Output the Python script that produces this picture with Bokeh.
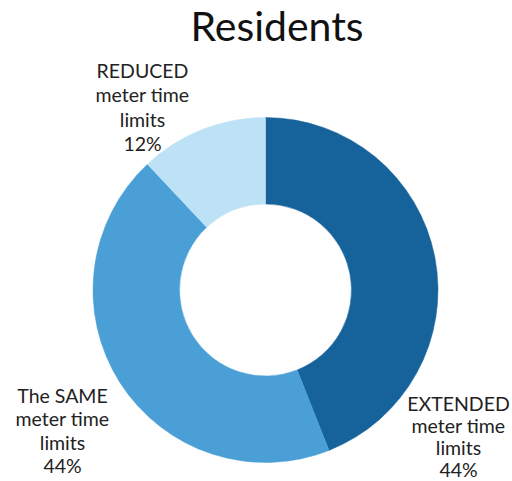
import math
from bokeh.plotting import figure
from bokeh.models import Range1d
from bokeh.core.properties import value
from bokeh.embed import file_html
from bokeh.resources import INLINE

title_text = "Residents"
categories = ["EXTENDED\nmeter time\nlimits", "The SAME\nmeter time\nlimits", "REDUCED\nmeter time\nlimits"]
percents = [44, 44, 12]
colors = ["#16639c", "#4a9fd6", "#bde2f5"]

# label anchors and line steps (layout)
label_pos = [(458, 78), (62, 86), (142, 411)]
label_step = [22, 23.3, 24.3]

W, H = 512, 481
p = figure(width=W, height=H, output_backend="svg", toolbar_location=None,
           x_range=Range1d(0, W), y_range=Range1d(0, H), min_border=0)
p.axis.visible = False
p.grid.visible = False
p.outline_line_color = None
p.background_fill_color = "white"

cx, cy = 265, 191.5
r_out, r_in = 172.5, 86

total = sum(percents)
cum = 0
for pct, col in zip(percents, colors):
    a0 = math.pi / 2 - cum / total * 2 * math.pi
    cum += pct
    a1 = math.pi / 2 - cum / total * 2 * math.pi
    p.annular_wedge(x=cx, y=cy, inner_radius=r_in, outer_radius=r_out,
                    start_angle=a0, end_angle=a1, direction="clock",
                    fill_color=col, line_color=col, line_width=0.5)

for cat, pct, (lx, ly), step in zip(categories, percents, label_pos, label_step):
    lines = cat.split("\n") + [f"{pct}%"]
    for i, t in enumerate(lines):
        p.text(x=[lx], y=[ly - i * step],
               text=[t], text_align="center", text_baseline="middle",
               text_font=value("Lato"), text_font_size="19.5px", text_color="#222222")

p.text(x=[276.5], y=[456], text=[title_text], text_align="center", text_baseline="middle",
       text_font=value("Lato"), text_font_size="41px", text_color="#111111")

open("out.html", "w").write(file_html(p, INLINE))
